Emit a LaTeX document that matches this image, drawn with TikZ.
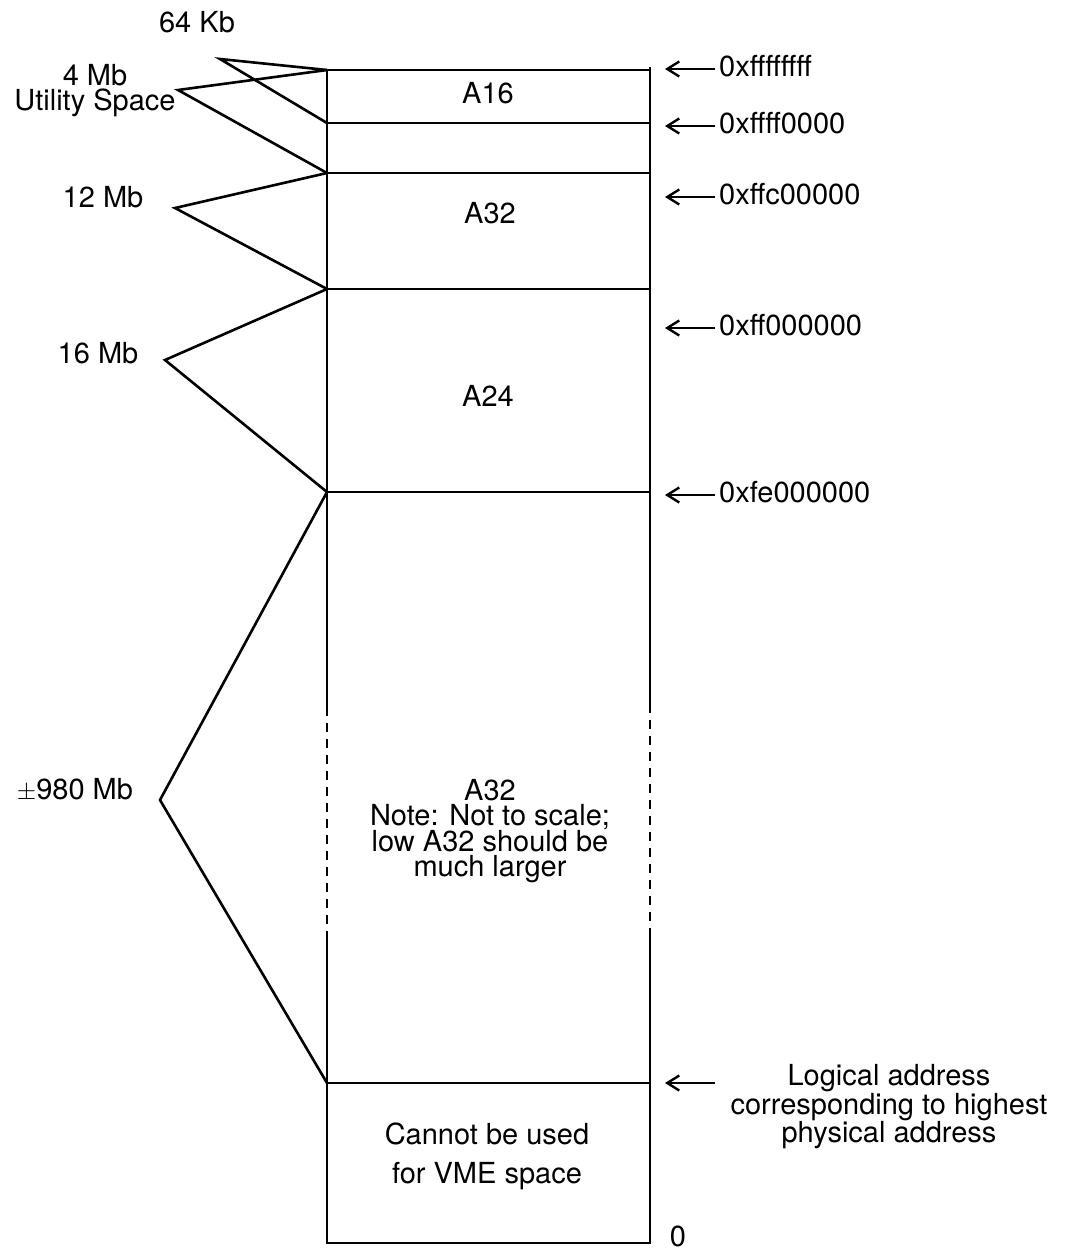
\documentclass[tikz,border=0pt]{standalone}
\usepackage{fontspec}
\setmainfont{TeX Gyre Heros}
\usetikzlibrary{arrows.meta}
\begin{document}
\begin{tikzpicture}[x=1pt,y=-1pt,
  txt/.style={font=\fontsize{29}{25}\selectfont, inner sep=0pt, align=center},
  edge/.style={line width=2.6pt, line join=miter},
  ptr/.style={line width=2.6pt, -{Straight Barb[length=12pt,width=15pt,line width=2.4pt]}},
  dashedge/.style={line width=2.6pt, dash pattern=on 9pt off 7pt}]
\useasboundingbox (0,0) rectangle (1071,1251);
% box coordinates
\foreach \n/\y in {t/70, a/123, b/173, c/289, d/492, e/1083, f/1243}{
  \coordinate (L\n) at (327,\y);
  \coordinate (R\n) at (650,\y);
}
\coordinate (Lds) at (327,707);
\coordinate (Lde) at (327,937);
\coordinate (Rds) at (650,707);
\coordinate (Rde) at (650,937);
\coordinate (Rtop) at (650,67);
% outline
\draw[edge] (Lt) -- (Lds);
\draw[dashedge] (Lds) -- (Lde);
\draw[edge] (Lde) -- (Lf) -- (Rf) -- (Rde);
\draw[dashedge] (Rde) -- (Rds);
\draw[edge] (Rds) -- (Rtop);
\foreach \n in {t,a,b,c,d,e}{ \draw[edge] (L\n) -- (R\n); }
% region labels
\node[txt] (a16) at (488,93) {A16};
\node[txt] (a32h) at (490,213) {A32};
\node[txt] (a24) at (488,396) {A24};
\node[txt] (a32l) at (490,831) {A32\\Note: Not to scale;\\low A32 should be\\much larger};
\node[txt, font=\fontsize{29}{39}\selectfont] (cannot) at (487,1156) {Cannot be used\\for VME space};
% left labels
\node[txt] (k64) at (197,22) {64 Kb};
\node[txt] (m4) at (95,91) {4 Mb\\Utility Space};
\node[txt] (m12) at (103,197) {12 Mb};
\node[txt] (m16) at (98,353) {16 Mb};
\node[txt] (m980) at (75,790) {$\pm$980 Mb};
% apexes
\coordinate (p64) at (220,59);
\coordinate (p4) at (178,90);
\coordinate (p12) at (175,208);
\coordinate (p16) at (165,360);
\coordinate (p980) at (160,800);
\draw[edge] (Lt) -- (p64) -- (La);
\draw[edge] (Lt) -- (p4) -- (Lb);
\draw[edge] (Lb) -- (p12) -- (Lc);
\draw[edge] (Lc) -- (p16) -- (Ld);
\draw[edge] (Ld) -- (p980) -- (Le);
% right labels and arrows
\foreach \n/\y/\t in {h1/66/0xffffffff, h2/123/0xffff0000, h3/194/0xffc00000, h4/325/0xff000000, h5/492/0xfe000000}{
  \node[txt, anchor=west] (\n) at (719,\y) {\t};
  \coordinate (\n tip) at (665,\y+3);
  \draw[ptr] (\n.west) ++(-4,3) coordinate (\n s) -- (\n tip);
}
\node[txt] (logical) at (889,1107) {Logical address\\corresponding to highest\\physical address};
\coordinate (lgs) at (715,1083);
\coordinate (lgt) at (665,1083);
\draw[ptr] (lgs) -- (lgt);
\node[txt] (zero) at (678,1236) {0};
\end{tikzpicture}
\end{document}
